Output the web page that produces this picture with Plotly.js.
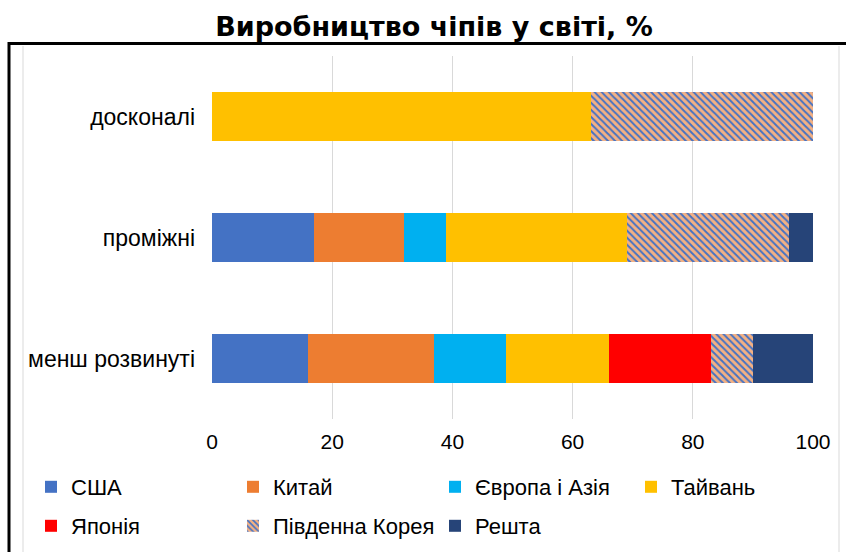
<!DOCTYPE html>
<html>
<head>
<meta charset="utf-8">
<script src="https://cdn.plot.ly/plotly-3.0.1.min.js"></script>
<style>html,body{margin:0;padding:0;background:#fff;}#chart{width:846px;height:552px;}</style>
</head>
<body>
<div id="chart"></div>
<script>
const categories = ['менш розвинуті', 'проміжні', 'досконалі'];
const seriesNames = ['США', 'Китай', 'Європа і Азія', 'Тайвань', 'Японія', 'Південна Корея', 'Решта'];
const usa      = [16, 17, 0];
const china    = [21, 15, 0];
const europe   = [12, 7, 0];
const taiwan   = [17, 30, 63];
const japan    = [17, 0, 0];
const korea    = [7, 27, 37];
const rest     = [10, 4, 0];
const xTicks   = [0, 20, 40, 60, 80, 100];

const seriesValues = [usa, china, europe, taiwan, japan, korea, rest];
const colors = ['#4472c4', '#ed7d31', '#00b0f0', '#ffc000', '#ff0000', '#f4b183', '#264478'];

const W = 846, H = 552;
const M = {l: 212, r: 33, t: 56, b: 133};
const PW = W - M.l - M.r, PH = H - M.t - M.b;
const px = v => (v - M.l) / PW;
const py = v => (H - M.b - v) / PH;

// legend entry placement (symbol centre x, row centre y) in pixels
const legendPos = [[52, 487], [254, 487], [456, 487], [652, 487], [52, 526], [254, 526], [456, 526]];

const legendIds = seriesNames.map((_, i) => i === 0 ? 'legend' : 'legend' + (i + 1));

const traces = seriesNames.map((name, i) => {
  const t = {
    type: 'bar',
    orientation: 'h',
    name: name,
    y: categories,
    x: seriesValues[i],
    marker: {color: colors[i], line: {width: 0}},
    legend: legendIds[i],
    hoverinfo: 'name+x'
  };
  if (name === 'Південна Корея') {
    t.marker.pattern = {shape: '\\', fgcolor: '#4472c4', bgcolor: '#f4b183', size: 5, solidity: 0.4, fillmode: 'replace'};
  }
  return t;
});

const layout = {
  width: W, height: H,
  margin: M,
  paper_bgcolor: '#fff', plot_bgcolor: '#fff',
  barmode: 'stack',
  bargap: 0.6,
  showlegend: true,
  title: {
    text: '<b>Виробництво чіпів у світі, %</b>',
    font: {family: 'DejaVu Sans, sans-serif', size: 27, color: '#000'},
    x: 434 / W, xanchor: 'center', y: 1 - 27 / H, yanchor: 'middle', xref: 'container', yref: 'container'
  },
  xaxis: {
    range: [0, 100], tickvals: xTicks, ticktext: xTicks.map(String),
    showgrid: true, gridcolor: '#d9d9d9', gridwidth: 1,
    zeroline: false, showline: false, ticks: '', ticklabelstandoff: 8,
    tickfont: {family: 'Liberation Sans, Arial, sans-serif', size: 21, color: '#000'},
    fixedrange: true
  },
  yaxis: {
    type: 'category', categoryorder: 'array', categoryarray: categories,
    showgrid: false, zeroline: false, showline: false, ticks: '', ticklabelstandoff: 16,
    tickfont: {family: 'Liberation Sans, Arial, sans-serif', size: 23, color: '#000'},
    fixedrange: true
  },
  shapes: [
    {type: 'line', xref: 'paper', yref: 'paper', x0: px(23), x1: px(23), y0: py(46), y1: py(570), line: {color: '#d9d9d9', width: 1}},
    {type: 'line', xref: 'paper', yref: 'paper', x0: px(839), x1: px(839), y0: py(46), y1: py(570), line: {color: '#d9d9d9', width: 1}},
    {type: 'rect', xref: 'paper', yref: 'paper', x0: px(9), x1: px(870), y0: py(43.5), y1: py(580), line: {color: '#000', width: 3}, fillcolor: 'rgba(0,0,0,0)'}
  ]
};

legendIds.forEach((id, i) => {
  layout[id] = {
    orientation: 'h',
    xref: 'container', yref: 'container',
    xanchor: 'left', yanchor: 'middle',
    x: (legendPos[i][0] - 21) / W,
    y: (H - legendPos[i][1]) / H,
    font: {family: 'Liberation Sans, Arial, sans-serif', size: 22, color: '#000'},
    bgcolor: 'rgba(0,0,0,0)',
    borderwidth: 0
  };
});

Plotly.newPlot('chart', traces, layout, {displayModeBar: false, staticPlot: true});
</script>
</body>
</html>
